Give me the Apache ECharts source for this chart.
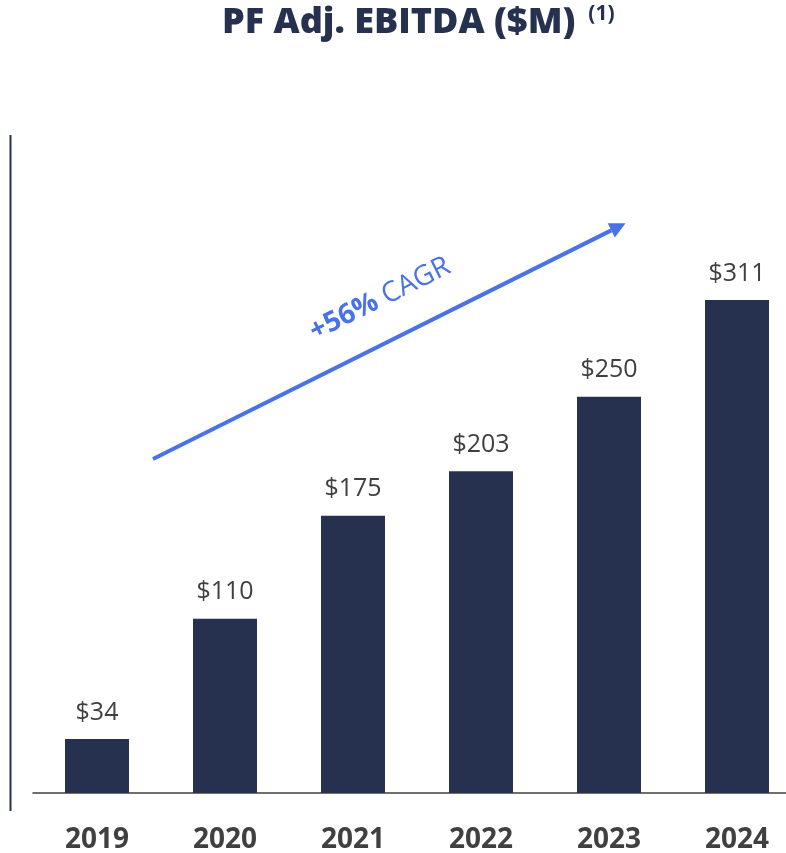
<!DOCTYPE html>
<html>
<head>
<meta charset="utf-8">
<title>PF Adj. EBITDA</title>
<script src="https://cdn.jsdelivr.net/npm/echarts@6/dist/echarts.min.js"></script>
<style>
  html, body { margin: 0; padding: 0; background: #ffffff; }
  #chart { width: 786px; height: 853px; }
</style>
</head>
<body>
<div id="chart"></div>
<script>
// Pro forma adjusted EBITDA by year, $M
const categories = ['2019', '2020', '2021', '2022', '2023', '2024'];
const ebitda = [34, 110, 175, 203, 250, 311];
const cagrValue = '+56%';
const cagrLabel = 'CAGR';

const NAVY = '#263150';
const BLUE = '#4a72e8';
const GREY = '#404040';
const FONT = '"Open Sans", "Noto Sans", sans-serif';

const chart = echarts.init(document.getElementById('chart'), null, { renderer: 'canvas' });

// CAGR arrow geometry (pixels)
const arrowStart = [153, 459];
const arrowEnd = [622, 225];
const dx = arrowEnd[0] - arrowStart[0];
const dy = arrowEnd[1] - arrowStart[1];
const ang = Math.atan2(dy, dx);
const headLen = 16, headHalf = 8;
const ux = Math.cos(ang), uy = Math.sin(ang);
const tip = [arrowEnd[0] + ux * 4, arrowEnd[1] + uy * 4];
const base = [tip[0] - ux * headLen, tip[1] - uy * headLen];
const head = [
  tip,
  [base[0] - uy * headHalf, base[1] + ux * headHalf],
  [base[0] + uy * headHalf, base[1] - ux * headHalf]
];

const option = {
  backgroundColor: '#ffffff',
  animation: false,
  grid: { left: 33, width: 768, top: 159, height: 634, outerBoundsMode: 'none', containLabel: false },
  xAxis: {
    type: 'category',
    data: categories,
    axisLine: { show: true, lineStyle: { color: GREY, width: 1.5 } },
    axisTick: { show: false },
    axisLabel: {
      color: GREY,
      fontFamily: FONT,
      fontWeight: 'bold',
      fontSize: 28,
      margin: 33
    }
  },
  yAxis: {
    type: 'value',
    min: 0,
    max: 400,
    show: false
  },
  series: [{
    type: 'bar',
    data: ebitda,
    barWidth: 64,
    itemStyle: { color: NAVY },
    label: {
      show: true,
      position: 'top',
      distance: 14,
      color: GREY,
      fontFamily: FONT,
      fontSize: 25,
      formatter: p => '$' + p.value
    }
  }],
  graphic: [
    {
      type: 'text',
      left: 222,
      top: 4,
      style: {
        text: '{t|PF Adj. EBITDA ($M)}{s|(1)}',
        rich: {
          t: { fontFamily: FONT, fontWeight: 800, fontSize: 36, fill: NAVY },
          s: { fontFamily: FONT, fontWeight: 'bold', fontSize: 21, fill: NAVY, verticalAlign: 'top', padding: [0, 0, 16, 13] }
        }
      }
    },
    {
      type: 'line',
      shape: { x1: 10.5, y1: 135, x2: 10.5, y2: 811 },
      style: { stroke: NAVY, lineWidth: 2 }
    },
    {
      type: 'line',
      shape: { x1: arrowStart[0], y1: arrowStart[1], x2: base[0], y2: base[1] },
      style: { stroke: BLUE, lineWidth: 4 }
    },
    {
      type: 'polygon',
      shape: { points: head },
      style: { fill: BLUE }
    },
    {
      type: 'text',
      x: 380,
      y: 299,
      rotation: -ang,
      style: {
        text: '{b|' + cagrValue + '}{r| ' + cagrLabel + '}',
        align: 'center',
        verticalAlign: 'middle',
        rich: {
          b: { fontFamily: FONT, fontWeight: 'bold', fontSize: 28, fill: BLUE },
          r: { fontFamily: FONT, fontSize: 28, fill: BLUE }
        }
      }
    }
  ]
};

chart.setOption(option);
</script>
</body>
</html>
